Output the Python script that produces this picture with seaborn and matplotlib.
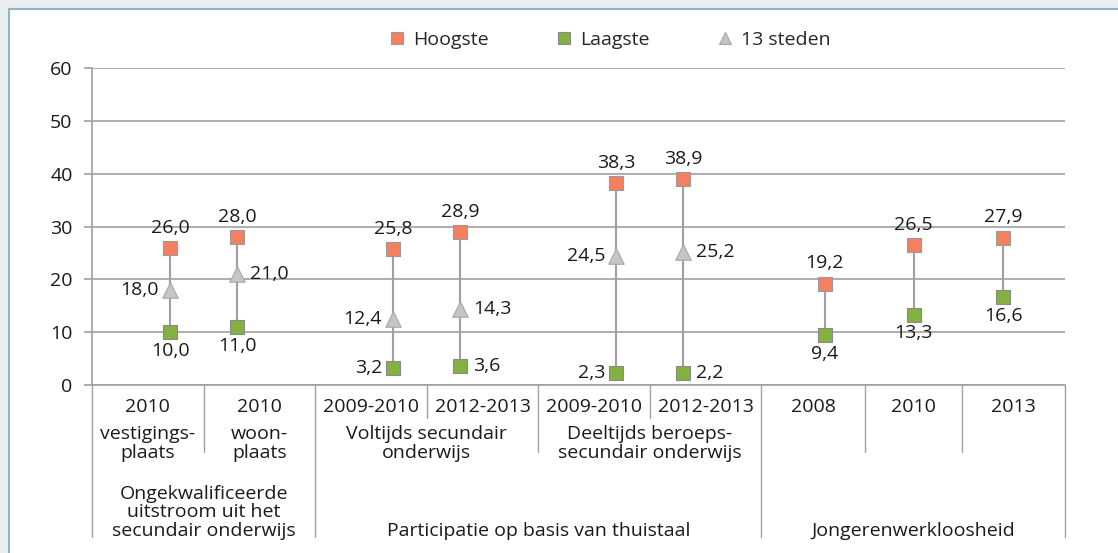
import numpy as np
import pandas as pd
import matplotlib
matplotlib.use("Agg")
import matplotlib.pyplot as plt
import seaborn as sns
from matplotlib.lines import Line2D
from matplotlib.patches import Rectangle
from matplotlib.transforms import blended_transform_factory

# --- data ------------------------------------------------------------------
years = ["2010", "2010", "2009-2010", "2012-2013", "2009-2010", "2012-2013",
         "2008", "2010", "2013"]
hoogste = [26.0, 28.0, 25.8, 28.9, 38.3, 38.9, 19.2, 26.5, 27.9]
laagste = [10.0, 11.0, 3.2, 3.6, 2.3, 2.2, 9.4, 13.3, 16.6]
steden = [18.0, 21.0, 12.4, 14.3, 24.5, 25.2, np.nan, np.nan, np.nan]

# second and third row of the category table: (first cell, last cell + 1, text)
sub_labels = [(0, 1, "vestigings-\nplaats"), (1, 2, "woon-\nplaats"),
              (2, 4, "Voltijds secundair\nonderwijs"),
              (4, 6, "Deeltijds beroeps-\nsecundair onderwijs"),
              (6, 7, ""), (7, 8, ""), (8, 9, "")]
group_labels = [(0, 2, "Ongekwalificeerde\nuitstroom uit het\nsecundair onderwijs"),
                (2, 6, "Participatie op basis van thuistaal"),
                (6, 9, "Jongerenwerkloosheid")]

# --- layout -------------------------------------------------------------------
cell_w = [1, 1, 1, 1, 1, 1, 0.93, 0.87, 0.92]
edges = np.concatenate([[0], np.cumsum(cell_w)])
centers = (edges[:-1] + edges[1:]) / 2
# paired cells: points pulled towards their shared edge; last three evenly spread
xpos = []
for i in range(6):
    xpos.append(edges[i + 1] - 0.3 if i % 2 == 0 else edges[i] + 0.3)
for k in range(3):
    xpos.append(centers[7] + (k - 1) * 0.8)
xpos = np.array(xpos)

# where each value label goes
hi_side = ["top"] * 9
lo_side = ["bottom", "bottom", "left", "right", "left", "right", "bottom", "bottom", "bottom"]
mid_side = ["left", "right", "left", "right", "left", "right", None, None, None]

ORANGE = "#f5805f"
GREEN = "#84b13f"
TRI = "#c5c5c5"
GRID = "#a0a0a0"
TXT = "#1a1a1a"
FS = 14

sns.set_theme(style="white")
plt.rcParams["font.family"] = ["Open Sans", "DejaVu Sans"]
plt.rcParams["font.size"] = FS

W, H = 1118, 553
fig = plt.figure(figsize=(W / 100, H / 100), dpi=100)
fig.patch.set_facecolor("#e9edf0")
fig.patches.append(Rectangle((9 / W, -0.1), 1.2, 1 - 9 / H + 0.1, transform=fig.transFigure,
                             facecolor="white", edgecolor="#8db4c6", linewidth=1.5,
                             zorder=-10))

ax_l, ax_r, ax_top, ax_bot = 92, 1065, 68, 385
ax = fig.add_axes([ax_l / W, 1 - ax_bot / H, (ax_r - ax_l) / W, (ax_bot - ax_top) / H])
ax.set_facecolor("none")
ax_h = ax_bot - ax_top

df = pd.DataFrame({"x": xpos, "hoogste": hoogste, "laagste": laagste, "steden": steden})

ax.vlines(df["x"], df["laagste"], df["hoogste"], color=GRID, linewidth=1.5, zorder=2)
sns.scatterplot(data=df, x="x", y="steden", marker="^", s=125, color=TRI,
                edgecolor="#a9a9a9", linewidth=0.8, zorder=3, ax=ax)
sns.scatterplot(data=df, x="x", y="hoogste", marker="s", s=95, color=ORANGE,
                edgecolor="#9a9a9a", linewidth=0.8, zorder=3, ax=ax)
sns.scatterplot(data=df, x="x", y="laagste", marker="s", s=95, color=GREEN,
                edgecolor="#8a8a8a", linewidth=0.8, zorder=3, ax=ax)


def fmt(v):
    return f"{v:.1f}".replace(".", ",")


offsets = {"top": ((0, 8), "center", "bottom"), "bottom": ((0, -7), "center", "top"),
           "left": ((-8, 0), "right", "center"), "right": ((9, 0), "left", "center")}
for series, sides in [(hoogste, hi_side), (laagste, lo_side), (steden, mid_side)]:
    for x, v, side in zip(xpos, series, sides):
        if side is None or np.isnan(v):
            continue
        off, ha, va = offsets[side]
        ax.annotate(fmt(v), (x, v), xytext=off, textcoords="offset points",
                    ha=ha, va=va, fontsize=FS, color=TXT)

ax.set_xlim(edges[0], edges[-1])
ax.set_ylim(0, 60)
ax.set_yticks(range(0, 61, 10))
ax.yaxis.grid(True, color=GRID, linewidth=1.2)
ax.set_axisbelow(True)
ax.set_xticks([])
ax.set_xlabel("")
ax.set_ylabel("")
ax.tick_params(axis="y", left=True, length=6, width=1.2, color=GRID, labelsize=FS,
               labelcolor=TXT, pad=8)
for s in ["top", "right"]:
    ax.spines[s].set_visible(False)
for s in ["left", "bottom"]:
    ax.spines[s].set_color(GRID)
    ax.spines[s].set_linewidth(1.2)

# --- category table under the axis ------------------------------------------------
tr = blended_transform_factory(ax.transData, ax.transAxes)


def yb(px):
    return -px / ax_h


level3_edges = {e for a, b, _ in group_labels for e in (a, b)}
level2_edges = {e for a, b, _ in sub_labels for e in (a, b)}
for i, e in enumerate(edges):
    depth = 152 if i in level3_edges else (67 if i in level2_edges else 33)
    ax.add_line(Line2D([e, e], [0, yb(depth)], transform=tr, color=GRID,
                       linewidth=1.0, clip_on=False))

for c, lab in zip(centers, years):
    ax.text(c, yb(22), lab, transform=tr, ha="center", va="center", fontsize=FS, color=TXT)
for a, b, lab in sub_labels:
    ax.text((edges[a] + edges[b]) / 2, yb(40), lab, transform=tr, ha="center", va="top",
            fontsize=FS, color=TXT, linespacing=1.05)
for a, b, lab in group_labels:
    ax.text((edges[a] + edges[b]) / 2, yb(155), lab, transform=tr, ha="center",
            va="bottom", fontsize=FS, color=TXT, linespacing=1.05)

# --- legend --------------------------------------------------------------------------
handles = [Line2D([], [], marker="s", linestyle="", markersize=9, markerfacecolor=ORANGE,
                  markeredgecolor="#9a9a9a", markeredgewidth=0.8),
           Line2D([], [], marker="s", linestyle="", markersize=9, markerfacecolor=GREEN,
                  markeredgecolor="#8a8a8a", markeredgewidth=0.8),
           Line2D([], [], marker="^", linestyle="", markersize=9, markerfacecolor=TRI,
                  markeredgecolor="#a9a9a9", markeredgewidth=0.8)]
fig.legend(handles, ["Hoogste", "Laagste", "13 steden"], loc="center",
           bbox_to_anchor=(610 / W, 1 - 40 / H), ncol=3, frameon=False, fontsize=FS,
           handlelength=0.8, handletextpad=0.4, columnspacing=3.5)

fig.savefig("out.png", dpi=100)
